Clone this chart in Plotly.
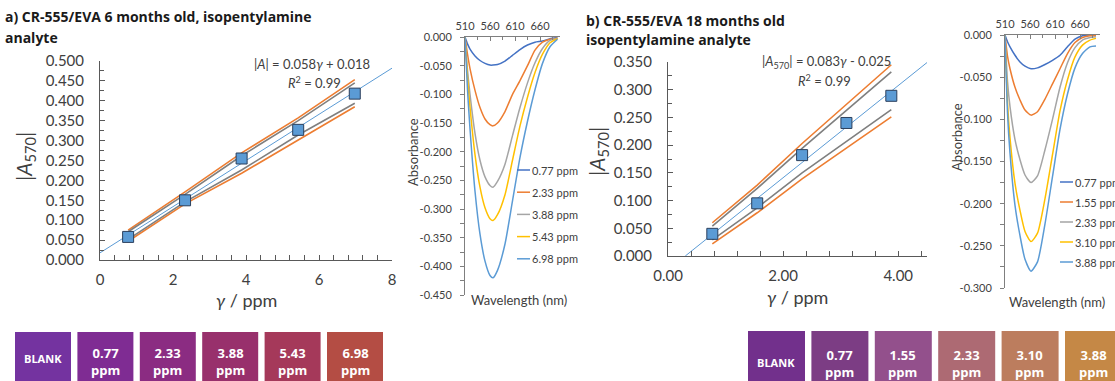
import plotly.graph_objects as go

W, H = 1115, 381


def px(x):
    return x / W


def py(y):
    return 1 - y / H


# ---------------- data ----------------
# panel a calibration
conc_a = [0.77, 2.33, 3.88, 5.43, 6.98]
abs_a = [0.058, 0.150, 0.255, 0.327, 0.418]
err_a = [0.008, 0.006, 0.007, 0.006, 0.007]
fit_a_x = [0.0, 8.0]
fit_a_y = [0.018, 0.482]
band_a_outer_hi = [0.075, 0.171, 0.269, 0.357, 0.453]
band_a_inner_hi = [0.071, 0.165, 0.262, 0.350, 0.445]
band_a_inner_lo = [0.052, 0.146, 0.226, 0.314, 0.394]
band_a_outer_lo = [0.047, 0.141, 0.218, 0.302, 0.385]

# panel b calibration
conc_b = [0.77, 1.55, 2.33, 3.10, 3.88]
abs_b = [0.040, 0.095, 0.182, 0.240, 0.289]
err_b = [0.006, 0.008, 0.006, 0.006, 0.007]
fit_b_x = [0.30, 4.5]
fit_b_y = [0.0, 0.349]
band_b_outer_hi = [0.060, 0.128, 0.203, 0.274, 0.345]
band_b_inner_hi = [0.054, 0.122, 0.194, 0.263, 0.332]
band_b_inner_lo = [0.029, 0.087, 0.150, 0.206, 0.264]
band_b_outer_lo = [0.022, 0.078, 0.139, 0.194, 0.251]

# panel a spectra
wl_a = [510, 515, 520, 530, 540, 550, 560, 566, 575, 590, 605, 620, 635, 650, 665, 680, 695]
spec_a_names = ["0.77 ppm", "2.33 ppm", "3.88 ppm", "5.43 ppm", "6.98 ppm"]
spec_a_077 = [0, -0.012, -0.021, -0.033, -0.041, -0.046, -0.049, -0.049, -0.048, -0.042, -0.032, -0.022, -0.014, -0.009, -0.007, -0.003, -0.001]
spec_a_233 = [0, -0.030, -0.055, -0.093, -0.123, -0.143, -0.153, -0.155, -0.150, -0.130, -0.100, -0.076, -0.050, -0.023, -0.009, -0.004, -0.002]
spec_a_388 = [0, -0.058, -0.100, -0.168, -0.215, -0.244, -0.259, -0.262, -0.252, -0.222, -0.172, -0.123, -0.080, -0.045, -0.020, -0.006, -0.002]
spec_a_543 = [0, -0.070, -0.122, -0.205, -0.262, -0.298, -0.317, -0.320, -0.310, -0.275, -0.215, -0.155, -0.105, -0.062, -0.030, -0.010, -0.003]
spec_a_698 = [0, -0.092, -0.160, -0.269, -0.344, -0.391, -0.416, -0.420, -0.407, -0.361, -0.286, -0.210, -0.147, -0.092, -0.046, -0.017, -0.004]

# panel b spectra
wl_b = [510, 515, 520, 530, 540, 550, 562, 575, 590, 605, 620, 635, 650, 665, 680, 692]
spec_b_names = ["0.77 ppm", "1.55 ppm", "2.33 ppm", "3.10 ppm", "3.88 ppm"]
spec_b_077 = [0, -0.008, -0.014, -0.024, -0.032, -0.037, -0.040, -0.039, -0.035, -0.030, -0.024, -0.014, -0.005, -0.001, 0, 0]
spec_b_155 = [0, -0.025, -0.040, -0.062, -0.077, -0.089, -0.095, -0.091, -0.076, -0.058, -0.040, -0.022, -0.009, -0.003, -0.001, -0.001]
spec_b_233 = [0, -0.055, -0.085, -0.124, -0.148, -0.166, -0.175, -0.167, -0.136, -0.100, -0.062, -0.033, -0.015, -0.006, -0.003, -0.002]
spec_b_310 = [0, -0.080, -0.122, -0.176, -0.208, -0.233, -0.245, -0.235, -0.194, -0.142, -0.090, -0.053, -0.026, -0.012, -0.006, -0.004]
spec_b_388 = [0, -0.092, -0.140, -0.202, -0.238, -0.266, -0.280, -0.269, -0.224, -0.168, -0.112, -0.070, -0.039, -0.022, -0.014, -0.013]

spec_colors = ["#4472C4", "#ED7D31", "#A5A5A5", "#FFC000", "#5B9BD5"]

# tick labels
calib_a_yticks = [0.0, 0.05, 0.10, 0.15, 0.20, 0.25, 0.30, 0.35, 0.40, 0.45, 0.50]
calib_b_yticks = [0.0, 0.05, 0.10, 0.15, 0.20, 0.25, 0.30, 0.35]
calib_a_xticks = [0, 2, 4, 6, 8]
calib_b_xticks = [0, 2, 4]
spec_xticks = [510, 560, 610, 660]
spec_a_yticks = [0.0, -0.05, -0.10, -0.15, -0.20, -0.25, -0.30, -0.35, -0.40, -0.45]
spec_b_yticks = [0.0, -0.05, -0.10, -0.15, -0.20, -0.25, -0.30]

# colour swatches
sw_a_labels = ["BLANK", "0.77", "2.33", "3.88", "5.43", "6.98"]
sw_a_colors = ["#7433A0", "#7F2C93", "#8B2C82", "#98306C", "#A5395A", "#B44D44"]
sw_b_labels = ["BLANK", "0.77", "1.55", "2.33", "3.10", "3.88"]
sw_b_colors = ["#72308C", "#7C3D84", "#93508C", "#AD6A73", "#BC7D5E", "#C58846"]

FONT = "Lato"
TXT = "#404040"

fig = go.Figure()


def add_calib(xa, ya, conc, vals, err, fx, fy, ohi, ihi, ilo, olo):
    for arr, col in [(ohi, "#ED7D31"), (olo, "#ED7D31"), (ihi, "#7F7F7F"), (ilo, "#7F7F7F")]:
        fig.add_trace(go.Scatter(x=conc, y=arr, mode="lines", xaxis=xa, yaxis=ya,
                                 line=dict(color=col, width=1.6), showlegend=False, hoverinfo="skip"))
    fig.add_trace(go.Scatter(x=fx, y=fy, mode="lines", xaxis=xa, yaxis=ya,
                             line=dict(color="#5B9BD5", width=1), showlegend=False))
    fig.add_trace(go.Scatter(x=conc, y=vals, mode="markers", xaxis=xa, yaxis=ya,
                             marker=dict(symbol="square", size=11, color="#5B9BD5",
                                         line=dict(color="#2B3F5C", width=1)),
                             error_y=dict(type="data", array=err, color="#A6A6A6", thickness=1, width=0),
                             showlegend=False))


add_calib("x", "y", conc_a, abs_a, err_a, fit_a_x, fit_a_y,
          band_a_outer_hi, band_a_inner_hi, band_a_inner_lo, band_a_outer_lo)
add_calib("x3", "y3", conc_b, abs_b, err_b, fit_b_x, fit_b_y,
          band_b_outer_hi, band_b_inner_hi, band_b_inner_lo, band_b_outer_lo)

for name, ys, col in zip(spec_a_names, [spec_a_077, spec_a_233, spec_a_388, spec_a_543, spec_a_698], spec_colors):
    fig.add_trace(go.Scatter(x=wl_a, y=ys, mode="lines", name=name, xaxis="x2", yaxis="y2",
                             line=dict(color=col, width=1.5, shape="spline", smoothing=0.6), showlegend=False))
for name, ys, col in zip(spec_b_names, [spec_b_077, spec_b_155, spec_b_233, spec_b_310, spec_b_388], spec_colors):
    fig.add_trace(go.Scatter(x=wl_b, y=ys, mode="lines", name=name, xaxis="x4", yaxis="y4",
                             line=dict(color=col, width=1.5, shape="spline", smoothing=0.6), showlegend=False))

axis_common = dict(showgrid=False, zeroline=False, showline=True, linecolor="#595959", linewidth=1,
                   tickcolor="#595959", tickfont=dict(family=FONT, size=15, color=TXT))


def calib_x(dom, rng, ticks, fmt):
    return dict(axis_common, domain=dom, range=rng, tickvals=ticks,
                ticktext=[fmt.format(t) for t in ticks], ticks="inside", ticklen=5,
                minor=dict(dtick=0.4, tick0=0, ticks="inside", ticklen=5, tickcolor="#595959"),
                ticklabelstandoff=6)


def calib_y(dom, rng, ticks):
    return dict(axis_common, domain=dom, range=rng, tickvals=ticks,
                ticktext=[f"{t:.3f}" for t in ticks], ticks="inside", ticklen=5,
                minor=dict(dtick=0.025, tick0=0, ticks="inside", ticklen=4, tickcolor="#595959"),
                ticklabelstandoff=12)


def spec_x(dom, anchor):
    return dict(axis_common, domain=dom, range=[510, 700], side="top", anchor=anchor,
                tickvals=spec_xticks, ticktext=[str(t) for t in spec_xticks],
                ticks="inside", ticklen=4, linecolor="#7F7F7F", tickcolor="#7F7F7F",
                minor=dict(dtick=25, tick0=510, ticks="inside", ticklen=3, tickcolor="#7F7F7F"),
                tickfont=dict(family=FONT, size=11, color=TXT), ticklabelstandoff=2)


def spec_y(dom, rng, ticks, anchor):
    return dict(axis_common, domain=dom, range=rng, anchor=anchor, tickvals=ticks,
                ticktext=[f"{t:.3f}" for t in ticks], ticks="outside", ticklen=4,
                linecolor="#7F7F7F", tickcolor="#7F7F7F",
                minor=dict(dtick=0.025, tick0=0, ticks="outside", ticklen=4, tickcolor="#7F7F7F"),
                tickfont=dict(family=FONT, size=11, color=TXT), ticklabelstandoff=6)


layout = dict(
    width=W, height=H, margin=dict(l=0, r=0, t=0, b=0, autoexpand=False),
    paper_bgcolor="white", plot_bgcolor="rgba(0,0,0,0)", showlegend=False,
    xaxis=calib_x([px(100), px(392)], [0, 8], calib_a_xticks, "{:d}") | dict(anchor="y"),
    yaxis=calib_y([py(260), py(61)], [0, 0.5], calib_a_yticks) | dict(anchor="x"),
    xaxis2=spec_x([px(465), px(560)], "y2"),
    yaxis2=spec_y([py(295), py(37)], [-0.45, 0], spec_a_yticks, "x2"),
    xaxis3=calib_x([px(668), px(927)], [0, 4.5], calib_b_xticks, "{:.2f}") | dict(anchor="y3"),
    yaxis3=calib_y([py(256), py(62)], [0, 0.35], calib_b_yticks) | dict(anchor="x3"),
    xaxis4=spec_x([px(1005), px(1100)], "y4"),
    yaxis4=spec_y([py(288), py(35)], [-0.30, 0], spec_b_yticks, "x4"),
)
fig.update_layout(**layout)

ann = []
shapes = []


def A(text, x, y, size=13, color=TXT, family=FONT, xanchor="center", angle=0, yanchor="middle"):
    ann.append(dict(text=text, x=px(x), y=py(y), xref="paper", yref="paper", showarrow=False,
                    xanchor=xanchor, yanchor=yanchor, textangle=angle,
                    font=dict(family=family, size=size, color=color)))


# titles
A("<b>a) CR-555/EVA 6 months old, isopentylamine</b>", 3, 16, size=14, color="#1a1a1a", family="Open Sans", xanchor="left")
A("<b>analyte</b>", 3, 37, size=14, color="#1a1a1a", family="Open Sans", xanchor="left")
A("<b>b) CR-555/EVA 18 months old</b>", 584, 20, size=14, color="#1a1a1a", family="Open Sans", xanchor="left")
A("<b>isopentylamine analyte</b>", 584, 39, size=14, color="#1a1a1a", family="Open Sans", xanchor="left")

# equations
A("|<i>A</i>| = 0.058<i>γ</i> + 0.018", 312, 64, size=13)
A("<i>R</i><sup>2</sup> = 0.99", 314, 82, size=13)
A("|<i>A</i><sub>570</sub>| = 0.083<i>γ</i> - 0.025", 826, 62, size=13)
A("<i>R</i><sup>2</sup> = 0.99", 824, 80, size=13)

# axis titles
A("|<i>A</i><sub>570</sub>|", 25, 157, size=21, angle=-90)
A("<i>γ</i> / ppm", 246, 300, size=18)
A("|<i>A</i><sub>570</sub>|", 598, 152, size=21, angle=-90)
A("<i>γ</i> / ppm", 797, 297, size=18)
A("Absorbance", 413, 152, size=13, angle=-90)
A("Wavelength (nm)", 519, 300, size=13)
A("Absorbance", 957, 137, size=13, angle=-90)
A("Wavelength (nm)", 1057, 302, size=13)

# custom legends
for i, (name, col) in enumerate(zip(spec_a_names, spec_colors)):
    yy = 170 + 22.2 * i
    shapes.append(dict(type="line", xref="paper", yref="paper", x0=px(517), x1=px(530), y0=py(yy), y1=py(yy),
                       line=dict(color=col, width=1.5)))
    A(name, 530, yy, size=11, xanchor="left")
for i, (name, col) in enumerate(zip(spec_b_names, spec_colors)):
    yy = 182 + 20 * i
    shapes.append(dict(type="line", xref="paper", yref="paper", x0=px(1060), x1=px(1073), y0=py(yy), y1=py(yy),
                       line=dict(color=col, width=1.5)))
    A(name, 1073, yy, size=11, xanchor="left")

# colour swatches
for i, (lab, col) in enumerate(zip(sw_a_labels, sw_a_colors)):
    x0 = 15 + 62.4 * i
    shapes.append(dict(type="rect", xref="paper", yref="paper", x0=px(x0), x1=px(x0 + 56),
                       y0=py(332), y1=py(390), fillcolor=col, line=dict(width=0)))
    if lab == "BLANK":
        A("<b>BLANK</b>", x0 + 28, 358, size=11, color="white", family="Open Sans")
    else:
        A(f"<b>{lab}<br>ppm</b>", x0 + 28, 361, size=13, color="white", family="Open Sans")
for i, (lab, col) in enumerate(zip(sw_b_labels, sw_b_colors)):
    x0 = 748 + 63.4 * i
    shapes.append(dict(type="rect", xref="paper", yref="paper", x0=px(x0), x1=px(x0 + 57),
                       y0=py(331), y1=py(390), fillcolor=col, line=dict(width=0)))
    if lab == "BLANK":
        A("<b>BLANK</b>", x0 + 28, 362, size=11, color="white", family="Open Sans")
    else:
        A(f"<b>{lab}<br>ppm</b>", x0 + 28, 363, size=13, color="white", family="Open Sans")

fig.update_layout(annotations=ann, shapes=shapes)
fig.write_html("out.html")
